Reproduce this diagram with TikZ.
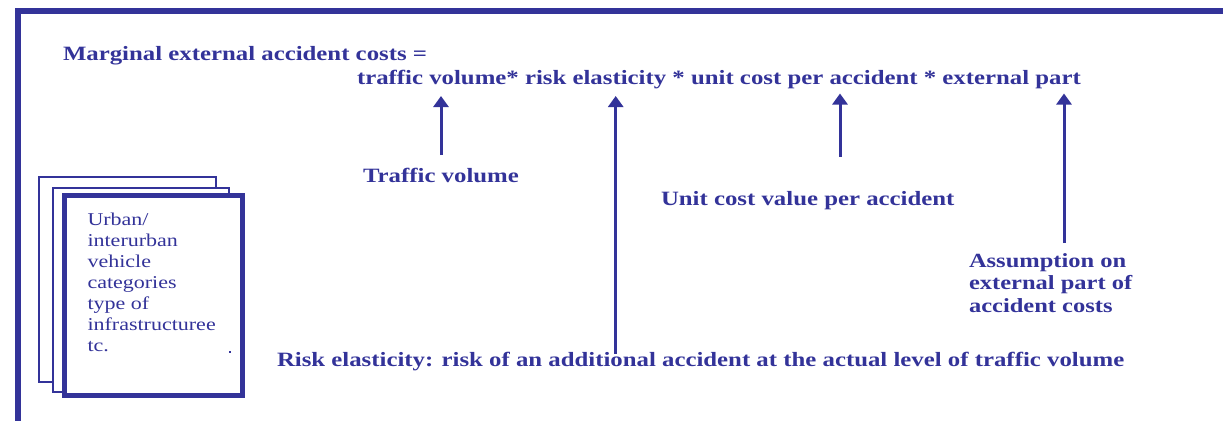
\documentclass[tikz,border=0pt]{standalone}
\usepackage{fontspec}
\usepackage{graphicx}
\setmainfont{Liberation Serif}
\usetikzlibrary{arrows.meta}
\definecolor{navy}{RGB}{51,51,153}
\tikzset{
  lbl/.style={anchor=base west, inner sep=0pt, outer sep=0pt, text=navy, font=\fontsize{24.8}{28}\selectfont\bfseries},
  boxtxt/.style={anchor=base west, inner sep=0pt, outer sep=0pt, text=navy, font=\fontsize{22}{25.8}\selectfont},
  arr/.style={draw=navy, line width=3pt, -{Triangle[width=15pt,length=11pt]}},
  framepath/.style={draw=navy, line width=6pt},
  card/.style={draw=navy, fill=white, line width=2pt},
  cardfront/.style={draw=navy, fill=white, line width=5pt},
}
\newcommand{\sq}[1]{\scalebox{1}[0.82]{#1}}
\begin{document}
\begin{tikzpicture}[x=1pt, y=-1pt]
\useasboundingbox (0,0) rectangle (1223,421);
% frame
\draw[framepath] (1223,11) -- (18,11) -- (18,421);
% stacked cards
\draw[card] (38.7,176.7) rectangle (215.7,382);
\draw[card] (52.7,187.7) rectangle (229,392);
\draw[cardfront] (64.2,195.5) rectangle (242.5,395.5);
\node[boxtxt] (boxtext) at (87.5,225) {\sq{\begin{tabular}[t]{@{}l@{}}Urban/\\interurban\\vehicle\\categories\\type of\\infrastructuree\\tc.\end{tabular}}};
\fill[navy] (229,351) rectangle (230.5,352.5);
% texts
\node[lbl] (title) at (63,60.5) {\sq{Marginal external accident costs =}};
\node[lbl] (formula) at (357,84) {\sq{traffic volume* risk elasticity * unit cost per accident * external part}};
\node[lbl] (tv) at (363,182.7) {\sq{Traffic volume}};
\node[lbl] (ucv) at (661,205) {\sq{Unit cost value per accident}};
\node[lbl, font=\fontsize{24.5}{28}\selectfont\bfseries] (assum) at (969,267) {\sq{\begin{tabular}[t]{@{}l@{}}Assumption on\\external part of\\accident costs\end{tabular}}};
\node[lbl] (risk) at (277,366.7) {\sq{Risk elasticity: risk of an additional accident at the actual level of traffic volume}};
% arrow ends
\coordinate (a1s) at (441,155);   \coordinate (a1e) at (441,96);
\coordinate (a2s) at (615.7,354); \coordinate (a2e) at (615.7,96);
\coordinate (a3s) at (840,156.7); \coordinate (a3e) at (840,93.5);
\coordinate (a4s) at (1064,243);  \coordinate (a4e) at (1064,93.5);
\draw[arr] (a1s) -- (a1e);
\draw[arr] (a2s) -- (a2e);
\draw[arr] (a3s) -- (a3e);
\draw[arr] (a4s) -- (a4e);
\end{tikzpicture}
\end{document}
